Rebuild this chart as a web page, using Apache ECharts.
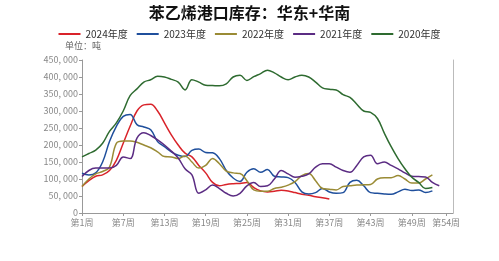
<!DOCTYPE html>
<html><head><meta charset="utf-8">
<script src="https://cdn.jsdelivr.net/npm/echarts@6/dist/echarts.min.js"></script>
<style>html,body{margin:0;padding:0;background:#fff}#c{width:499px;height:261px}</style>
</head><body><div id="c"></div>
<script>
const title = '苯乙烯港口库存：华东+华南';
const unitText = '单位：吨';
const seriesNames = ['2024年度','2023年度','2022年度','2021年度','2020年度'];
const xTickWeeks = [1,7,13,19,25,31,37,43,49,54];
const yTicks = [0,50000,100000,150000,200000,250000,300000,350000,400000,450000];
// values in thousand tonnes, week 1..n
const v2024 = [78,95,108,112,125,155,205,255,300,318,320,300,265,230,200,176,165,140,118,90,80,84,86,87,90,75,65,62,64,67,65,60,55,52,48,45,41];
const v2023 = [117,112,118,150,210,255,284,290,260,253,245,210,195,180,170,166,184,188,178,177,160,125,103,93,120,130,120,128,108,106,104,90,62,56,60,72,62,58,60,90,96,80,60,58,56,55,62,70,66,68,60,65];
const v2022 = [78,100,115,122,135,205,212,212,208,200,192,180,166,165,160,168,150,132,140,160,145,123,118,116,95,68,64,64,72,76,82,92,110,116,95,72,70,68,78,80,82,83,84,100,104,104,110,100,88,88,100,112];
const v2021 = [107,125,132,132,132,140,165,160,220,236,228,215,200,182,162,130,112,58,68,82,72,58,50,58,80,90,78,80,100,125,115,105,108,115,135,145,145,135,125,120,140,165,170,145,150,140,130,118,108,107,106,90,80];
const v2020 = [165,175,185,205,240,265,300,345,365,385,392,402,400,393,385,362,392,385,376,375,374,380,400,405,390,401,410,420,412,400,392,400,405,400,385,368,364,362,348,340,320,300,296,278,235,195,160,130,105,90,72,75];
const colors = ['#d9232a','#1f4f9c','#9a8b35','#5b2c83','#2e6b30'];
const allVals = [v2024,v2023,v2022,v2021,v2020];

const chart = echarts.init(document.getElementById('c'), null, {renderer:'canvas'});
const fmt = v => { const s = String(v); return s.length > 3 ? s.slice(0, s.length-3) + ', ' + s.slice(-3) : s; };
chart.setOption({
  animation:false,
  title:{text:title,left:'center',top:0,textStyle:{fontFamily:'Noto Sans CJK SC',fontSize:16,fontWeight:'bold',color:'#111'}},
  graphic:[{type:'text',left:65,top:41,style:{text:unitText,font:'9px "Noto Sans CJK SC"',fill:'#666'}}],
  legend:{top:24,left:'center',itemGap:9,itemWidth:22,itemHeight:2,icon:'rect',data:seriesNames,
    textStyle:{fontFamily:'Noto Sans CJK SC',fontSize:10,color:'#333'}},
  grid:{left:82,right:46,top:60,bottom:48},
  xAxis:{type:'value',min:1,max:55,
    axisLine:{lineStyle:{color:'#999'}},
    axisTick:{customValues:xTickWeeks,length:3,lineStyle:{color:'#999'}},
    axisLabel:{customValues:xTickWeeks,formatter:v=>'第'+v+'周',fontSize:9,color:'#888',fontFamily:'Noto Sans CJK SC',margin:5},
    splitLine:{show:false}},
  yAxis:[{type:'value',min:0,max:450000,interval:50000,
    axisLine:{show:true,lineStyle:{color:'#999'}},
    axisTick:{show:true,length:3,lineStyle:{color:'#999'}},
    axisLabel:{formatter:fmt,fontSize:9,color:'#888',fontFamily:'Noto Sans CJK SC',margin:4},
    splitLine:{show:false}},
    {type:'value',position:'right',min:0,max:450000,interval:50000,
    axisLine:{show:true,lineStyle:{color:'#bbb'}},axisTick:{show:false},axisLabel:{show:false},splitLine:{show:false}}],
  series: seriesNames.map((n,i)=>({
    name:n,type:'line',smooth:0.4,symbol:'none',yAxisIndex:0,
    lineStyle:{width:1.5,color:colors[i]},itemStyle:{color:colors[i]},
    data: allVals[i].map((v,k)=>[k+1, v*1000])
  }))
});
</script></body></html>
